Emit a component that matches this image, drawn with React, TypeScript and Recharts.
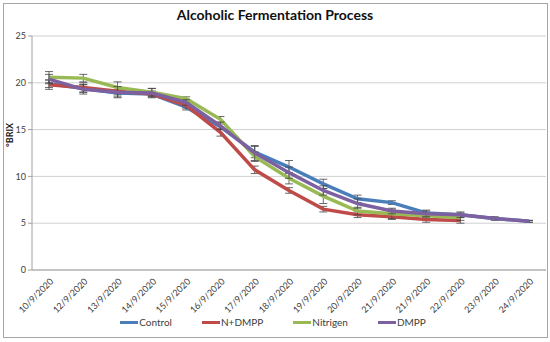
import {
  LineChart, Line, XAxis, YAxis, CartesianGrid, Legend, ErrorBar,
} from 'recharts'

const dates = [
  '10/9/2020', '12/9/2020', '13/9/2020', '14/9/2020', '15/9/2020',
  '16/9/2020', '17/9/2020', '18/9/2020', '19/9/2020', '20/9/2020',
  '21/9/2020', '21/9/2020', '22/9/2020', '23/9/2020', '24/9/2020',
]

const control = [19.9, 19.4, 18.9, 18.8, 17.4, 15.3, 12.6, 11.0, 9.2, 7.6, 7.2, 6.1, 5.9, 5.5, 5.2]
const nDmpp = [19.8, 19.5, 19.1, 18.8, 17.6, 14.7, 10.7, 8.5, 6.5, 5.9, 5.7, 5.4, 5.3, null, null]
const nitrigen = [20.6, 20.5, 19.5, 19.0, 18.3, 16.1, 12.1, 9.8, 7.9, 6.3, 6.0, 5.8, 5.6, null, null]
const dmpp = [20.4, 19.3, 19.0, 18.9, 17.9, 15.4, 12.5, 10.4, 8.5, 7.1, 6.3, 6.0, 5.9, 5.5, 5.2]

const controlErr = [0.4, 0.4, 0.4, 0.3, 0.3, 0.3, 0.6, 0.7, 0.5, 0.4, 0.2, 0.3, 0.2, 0.1, 0.1]
const nDmppErr = [0.5, 0.5, 0.4, 0.3, 0.3, 0.4, 0.4, 0.3, 0.3, 0.3, 0.3, 0.3, 0.3, 0, 0]
const nitrigenErr = [0.6, 0.4, 0.6, 0.4, 0.2, 0.3, 0.5, 0.6, 0.8, 0.4, 0.5, 0.2, 0.3, 0, 0]
const dmppErr = [0.5, 0.5, 0.6, 0.5, 0.3, 0.4, 0.8, 0.6, 0.5, 0.5, 0.3, 0.3, 0.3, 0.2, 0.1]

const seriesNames = ['Control', 'N+DMPP', 'Nitrigen', 'DMPP']
const colors = ['#4a7ebb', '#be4b48', '#98b954', '#7d60a0']
const yTicks = [0, 5, 10, 15, 20, 25]

const data = dates.map((d, i) => ({
  date: d,
  control: control[i],
  nDmpp: nDmpp[i],
  nitrigen: nitrigen[i],
  dmpp: dmpp[i],
  controlErr: controlErr[i],
  nDmppErr: nDmppErr[i],
  nitrigenErr: nitrigenErr[i],
  dmppErr: dmppErr[i],
}))

const keys = ['control', 'nDmpp', 'nitrigen', 'dmpp']

const font = 'Lato, "Open Sans", sans-serif'

const DateTick = ({ x, y, payload }: any) => (
  <text
    x={x + 5}
    y={y + 4}
    textAnchor="end"
    fontSize={9}
    fill="#404040"
    fontFamily={font}
    transform={`rotate(-45, ${x + 5}, ${y + 4})`}
  >
    {payload.value}
  </text>
)

const LegendRow = () => (
  <div style={{ display: 'flex', justifyContent: 'center', paddingLeft: 0, marginTop: -2 }}>
    {seriesNames.map((n, i) => (
      <div key={n} style={{ display: 'flex', alignItems: 'center', marginRight: i < 3 ? 30 : 0 }}>
        <div style={{ width: 18, height: 3, background: colors[i] }} />
        <span style={{ fontSize: 10, color: '#404040', marginLeft: 1 }}>{n}</span>
      </div>
    ))}
  </div>
)

export default function App() {
  return (
    <div
      style={{
        position: 'absolute', left: 0, top: 0, width: 550, height: 342,
        background: '#fff', fontFamily: font,
      }}
    >
      <div
        style={{
          position: 'absolute', left: 3, top: 3, width: 543, height: 333,
          border: '1px solid #a6a6a6',
        }}
      />
      <div
        style={{
          position: 'absolute', top: 6, width: 550, textAlign: 'center',
          fontSize: 14, fontWeight: 700, color: '#111',
        }}
      >
        Alcoholic Fermentation Process
      </div>
      <div
        style={{
          position: 'absolute', left: 4, top: 147, fontSize: 9, fontWeight: 700,
          color: '#222', transform: 'rotate(-90deg)', transformOrigin: 'left top',
          whiteSpace: 'nowrap',
        }}
      >
        °BRIX
      </div>
      <LineChart
        width={550}
        height={342}
        data={data}
        margin={{ top: 36, right: 4, left: 0, bottom: 4 }}
        style={{ position: 'absolute', left: 0, top: 0 }}
      >
        <CartesianGrid vertical={false} stroke="#d0d0d0" />
        <XAxis
          dataKey="date"
          interval={0}
          height={48}
          padding={{ left: 17, right: 17 }}
          tick={<DateTick />}
          tickLine={false}
          axisLine={{ stroke: '#a0a0a0' }}
        />
        <YAxis
          width={32}
          domain={[0, 25]}
          ticks={yTicks}
          tick={{ fontSize: 9, fill: '#404040', fontFamily: font }}
          tickLine={{ stroke: '#a0a0a0' }}
          tickSize={4}
          axisLine={{ stroke: '#a0a0a0' }}
        />
        <Legend verticalAlign="bottom" height={20} content={<LegendRow />} />
        {keys.map((k, i) => (
          <Line
            key={k}
            type="linear"
            dataKey={k}
            name={seriesNames[i]}
            stroke={colors[i]}
            strokeWidth={3.5}
            dot={false}
            isAnimationActive={false}
          >
            <ErrorBar
              dataKey={`${k}Err`}
              width={4}
              stroke="#444"
              strokeWidth={0.8}
              direction="y"
            />
          </Line>
        ))}
      </LineChart>
    </div>
  )
}
